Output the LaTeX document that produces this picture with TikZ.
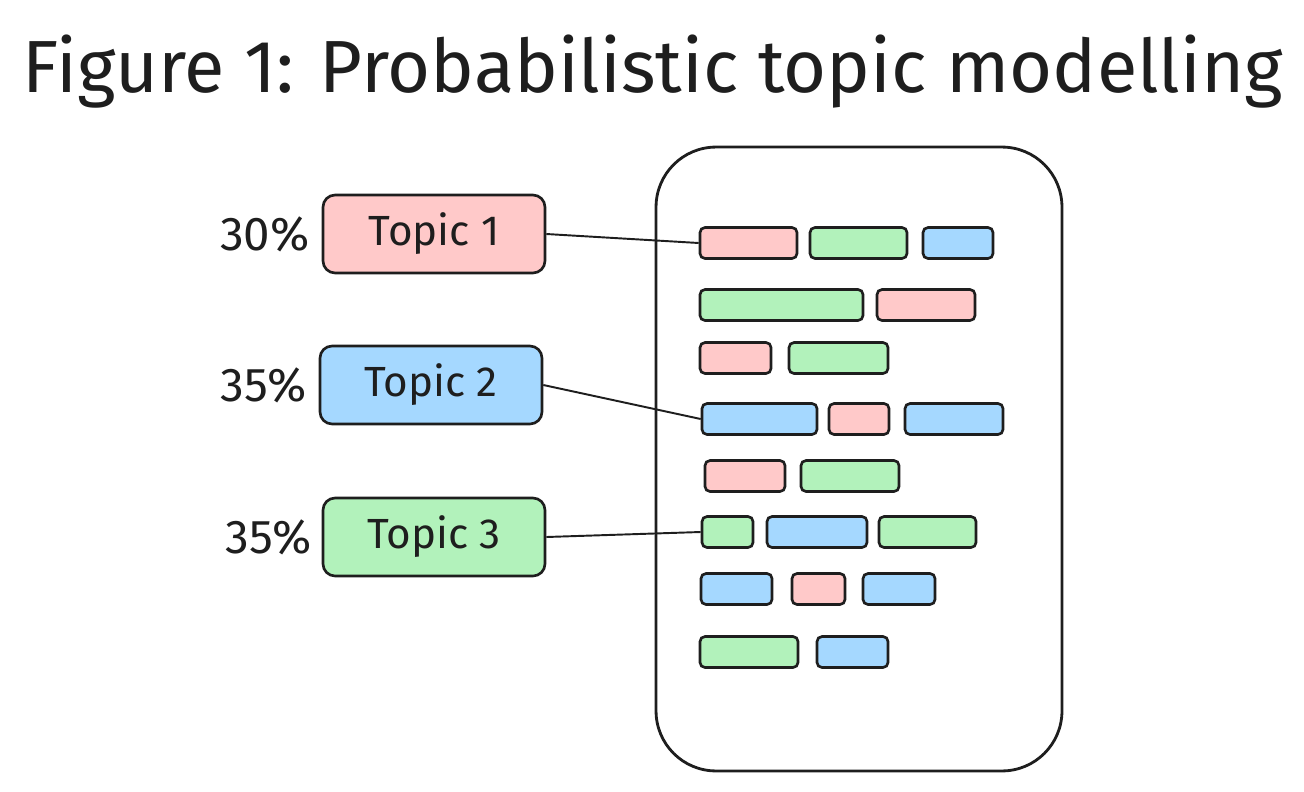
\documentclass[tikz,border=0pt]{standalone}
\usepackage{fontspec}
\setmainfont{Fira Sans}
\usepackage{tikz}
\usetikzlibrary{positioning}
\definecolor{ink}{HTML}{1E1E1E}
\definecolor{pinkf}{HTML}{FFC9C9}
\definecolor{greenf}{HTML}{B2F2BB}
\definecolor{bluef}{HTML}{A5D8FF}
\begin{document}
\begin{tikzpicture}[x=0.02cm,y=-0.02cm,
  topic/.style={draw=ink,line width=1.5pt,rounded corners=0.24cm,minimum width=4.44cm,minimum height=1.56cm,inner sep=0pt,text=ink,font=\fontsize{24}{24}\selectfont},
  wbar/.style={draw=ink,line width=1.5pt,rounded corners=0.1cm,minimum height=0.62cm,inner sep=0pt},
  pct/.style={inner sep=0pt,text=ink,font=\fontsize{27}{27}\selectfont},
  link/.style={draw=ink,line width=1.1pt}]
\pgfmathsetmacro{\xo}{0.0}
\pgfmathsetmacro{\yo}{0.0}
\newcommand{\wordbar}[5]{\node[wbar,fill=#2,minimum width={(#4-#3)*0.02cm}] (#1) at ({(#3+#4)/2+\xo},{#5+\yo}) {};}
\useasboundingbox (0,0) rectangle (1304,791);
% title
\node[anchor=base,inner sep=0pt,text=ink] (title) at (653,92) {\resizebox{25.2cm}{!}{Figure 1: Probabilistic topic modelling}};
% document
\node[draw=ink,line width=1.6pt,rounded corners=1.2cm,minimum width=8.12cm,minimum height=12.48cm] (doc) at (859+\xo,459+\yo) {};
% topics
\node[topic,fill=pinkf] (t1) at (434+\xo,234+\yo) {Topic 1};
\node[topic,fill=bluef] (t2) at (431+\xo,385+\yo) {Topic 2};
\node[topic,fill=greenf] (t3) at (434+\xo,537+\yo) {Topic 3};
\node[pct,left=0.24cm of t1] (p1) {30\%};
\node[pct,left=0.24cm of t2] (p2) {35\%};
\node[pct,left=0.2cm of t3] (p3) {35\%};
% words
\wordbar{b11}{pinkf}{700}{797}{243} \wordbar{b12}{greenf}{810}{907}{243} \wordbar{b13}{bluef}{923}{993}{243}
\wordbar{b21}{greenf}{700}{863}{305} \wordbar{b22}{pinkf}{877}{975}{305}
\wordbar{b31}{pinkf}{700}{771}{358} \wordbar{b32}{greenf}{789}{888}{358}
\wordbar{b41}{bluef}{702}{817}{419} \wordbar{b42}{pinkf}{829}{889}{419} \wordbar{b43}{bluef}{905}{1003}{419}
\wordbar{b51}{pinkf}{705}{785}{476} \wordbar{b52}{greenf}{801}{899}{476}
\wordbar{b61}{greenf}{702}{753}{532} \wordbar{b62}{bluef}{767}{867}{532} \wordbar{b63}{greenf}{879}{976}{532}
\wordbar{b71}{bluef}{701}{772}{589} \wordbar{b72}{pinkf}{792}{845}{589} \wordbar{b73}{bluef}{863}{935}{589}
\wordbar{b81}{greenf}{700}{798}{652} \wordbar{b82}{bluef}{817}{888}{652}
% links
\draw[link] (t1.east) -- (b11.west);
\draw[link] (t2.east) -- (b41.west);
\draw[link] (t3.east) -- (b61.west);
\end{tikzpicture}
\end{document}
